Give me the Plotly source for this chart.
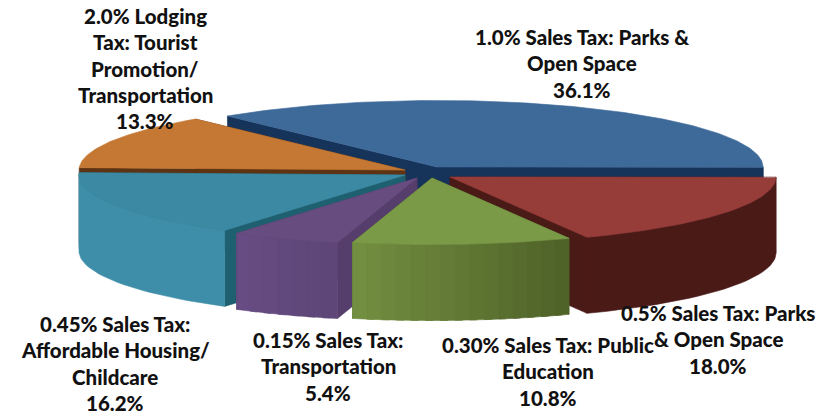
import math
import plotly.graph_objects as go

# ---- data ----
categories = ["1.0% Sales Tax: Parks & Open Space", "0.5% Sales Tax: Parks & Open Space",
              "0.30% Sales Tax: Public Education", "0.15% Sales Tax: Transportation",
              "0.45% Sales Tax: Affordable Housing/ Childcare",
              "2.0% Lodging Tax: Tourist Promotion/ Transportation"]
shares = [36.1, 18.0, 10.8, 5.4, 16.2, 13.3]

# ---- label text, one list of lines per slice ----
label_lines = [
    ["1.0% Sales Tax: Parks &", "Open Space", "36.1%"],
    ["0.5% Sales Tax: Parks", "& Open Space", "18.0%"],
    ["0.30% Sales Tax: Public", "Education", "10.8%"],
    ["0.15% Sales Tax:", "Transportation", "5.4%"],
    ["0.45% Sales Tax:", "Affordable Housing/", "Childcare", "16.2%"],
    ["2.0% Lodging", "Tax: Tourist", "Promotion/", "Transportation", "13.3%"],
]
label_x = [582, 718, 548, 328, 115, 145]
label_y0 = [37, 313, 345, 340, 324, 16]
label_step = 26.3

# ---- styling of the pie ----
RX, RY, DEPTH = 326, 66.5, 76
START_DEG = 130.0
apex = [(437, 167), (450, 177), (432, 178), (417, 178), (405, 175), (405, 170)]
top_col = ["#3E6A9A", "#963D3A", "#7A9A48", "#674C80", "#3C89A3", "#C57833"]
cut_col = ["#16335A", "#4A1A17", "#4F6228", "#563E6C", "#1F6070", "#5E3313"]
wall_from = ["#16335A", "#4A1A17", "#728E40", "#664C82", "#3E8EAA", "#8A5020"]
wall_to = ["#16335A", "#4A1A17", "#4F6228", "#5F4678", "#3E8EAA", "#8A5020"]
order = [0, 5, 4, 3, 1, 2]

fig = go.Figure()


def poly(xs, ys, color):
    fig.add_trace(go.Scatter(x=xs, y=ys, mode="lines", fill="toself", fillcolor=color,
                             line=dict(color=color, width=0.6), hoverinfo="skip", showlegend=False))


def pt(i, deg):
    a = math.radians(deg)
    return apex[i][0] + RX * math.cos(a), apex[i][1] - RY * math.sin(a)


def mix(c1, c2, t):
    v1 = [int(c1[k:k + 2], 16) for k in (1, 3, 5)]
    v2 = [int(c2[k:k + 2], 16) for k in (1, 3, 5)]
    return "#%02x%02x%02x" % tuple(round(p + (q - p) * t) for p, q in zip(v1, v2))


def wall(i, d0, d1, color):
    m = max(1, int((d1 - d0) / 2))
    arc = [pt(i, d0 + (d1 - d0) * k / m) for k in range(m + 1)]
    xs = [p[0] for p in arc]
    ys = [p[1] for p in arc]
    poly(xs + xs[::-1] + xs[:1], ys + [y + DEPTH for y in ys[::-1]] + ys[:1], color)


total = sum(shares)
edges = [START_DEG]
for s in shares:
    edges.append(edges[-1] - 360.0 * s / total)

for i in order:
    a0, a1 = edges[i], edges[i + 1]
    ax, ay = apex[i]
    # cut faces
    for edge in (a0, a1):
        ex, ey = pt(i, edge)
        poly([ax, ex, ex, ax, ax], [ay, ey, ey + DEPTH, ay + DEPTH, ay], cut_col[i])
    # outer wall; shaded walls are overlapping strips
    lo, hi = max(a1, -180.0), min(a0, 0.0)
    if hi > lo:
        if wall_from[i] == wall_to[i]:
            wall(i, lo, hi, wall_from[i])
        else:
            n = max(1, int((hi - lo) / 2.5))
            step = (hi - lo) / n
            for k in range(n):
                wall(i, lo + step * k, min(hi, lo + step * (k + 1.5)),
                     mix(wall_from[i], wall_to[i], k / max(1, n - 1)))
    # top face
    n = max(2, int(abs(a1 - a0)))
    arc = [pt(i, a0 + (a1 - a0) * k / n) for k in range(n + 1)]
    poly([ax] + [p[0] for p in arc] + [ax], [ay] + [p[1] for p in arc] + [ay], top_col[i])

annotations = []
for lines, x, y0 in zip(label_lines, label_x, label_y0):
    for j, line in enumerate(lines):
        annotations.append(dict(x=x, y=y0 + j * label_step, text=line, showarrow=False,
                                xanchor="center", yanchor="middle",
                                font=dict(family="Lato", size=20.5, color="#111111", weight=900)))

fig.update_layout(
    width=836, height=414, margin=dict(l=0, r=0, t=0, b=0),
    paper_bgcolor="white", plot_bgcolor="white", showlegend=False,
    xaxis=dict(range=[0, 836], visible=False, fixedrange=True),
    yaxis=dict(range=[414, 0], visible=False, fixedrange=True),
    annotations=annotations,
)
fig.write_html("out.html", config={"displayModeBar": False},
               post_script="document.body.style.margin='0';document.documentElement.style.overflow='hidden';")
